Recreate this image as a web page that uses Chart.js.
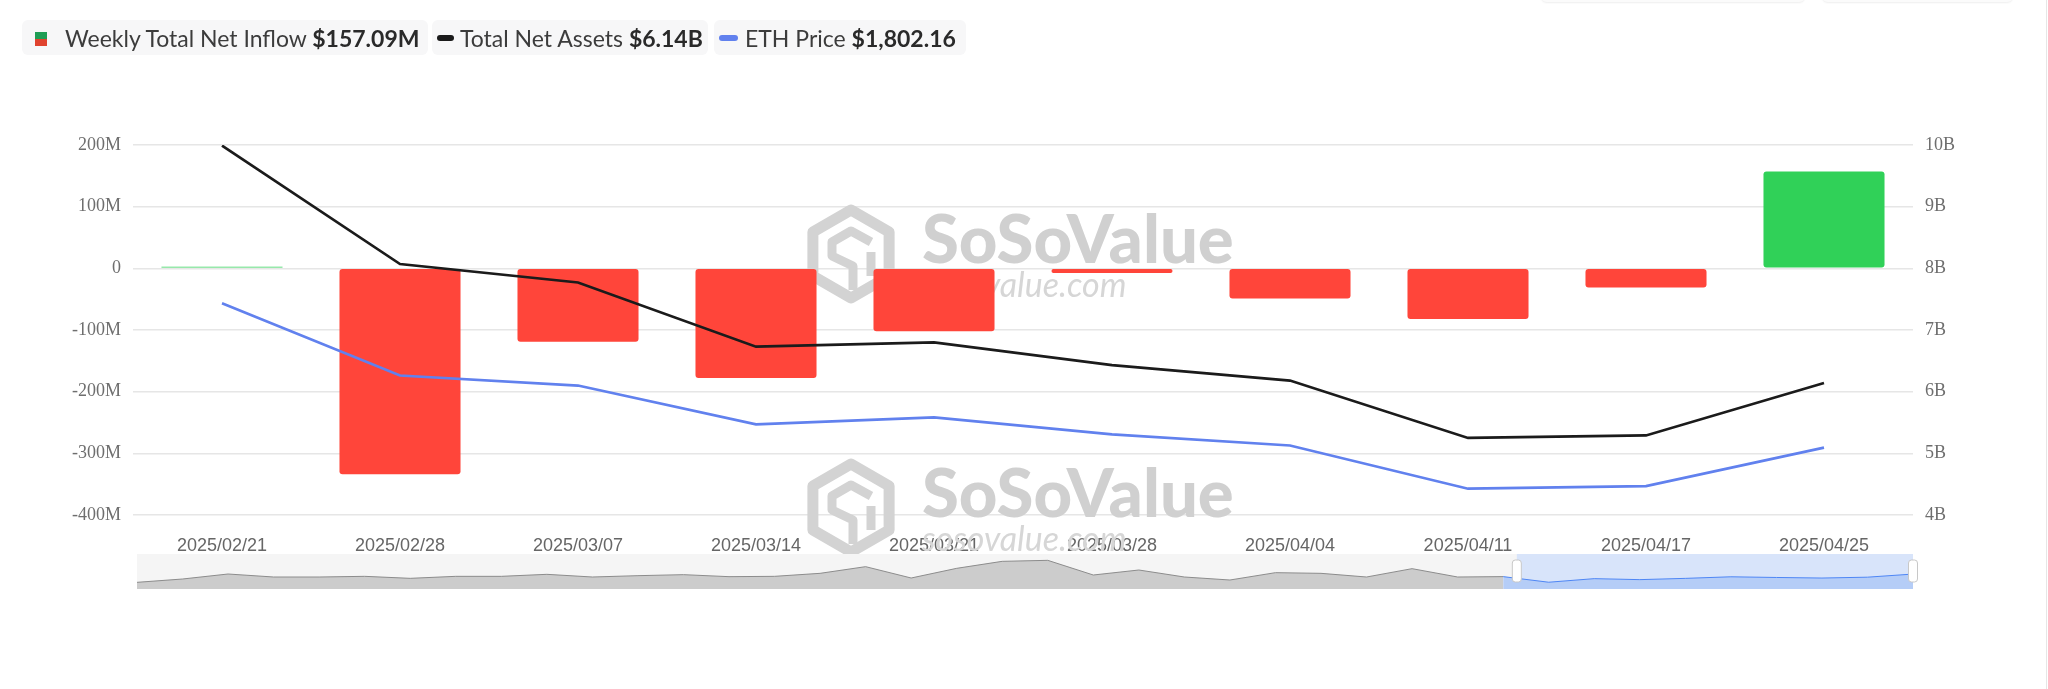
<!DOCTYPE html>
<html>
<head>
<meta charset="utf-8">
<title>ETH ETF Weekly Net Inflow</title>
<script src="https://cdn.jsdelivr.net/npm/chart.js@4.4.0/dist/chart.umd.min.js"></script>
<style>
  html, body { margin: 0; padding: 0; background: #fff; }
  body { width: 2048px; height: 689px; position: relative; overflow: hidden; font-family: Lato, 'Noto Sans', sans-serif; }
  #main { position: absolute; left: 0; top: 0; }
  #nav { position: absolute; left: 130px; top: 554px; }
  .legend { position: absolute; top: 20px; height: 35px; background: #f7f7f8; border-radius: 6px; font-size: 23px; color: #3c3c3c; white-space: nowrap; }
  .legend span.txt { position: absolute; top: 0; line-height: 36px; }
  .legend b { color: #2a2a2a; font-weight: 700; }
  .icon { position: absolute; }
  .topbox { position: absolute; top: -30px; height: 32px; background: #fbfbfb; border-radius: 6px; box-shadow: 0 1px 2px rgba(0,0,0,0.07); }
  #edge { position: absolute; left: 2046px; top: 0; width: 1px; height: 689px; background: #e6e6e6; }
</style>
</head>
<body>

<canvas id="main" width="2048" height="689"></canvas>
<canvas id="nav" width="1795" height="35"></canvas>

<div class="topbox" style="left:1541px;width:264px"></div>
<div class="topbox" style="left:1822px;width:191px"></div>
<div id="edge"></div>

<div class="legend" style="left:22px;width:406px">
  <div class="icon" style="left:13px;top:12px;width:12px;height:7px;background:#1f9d55"></div>
  <div class="icon" style="left:13px;top:19px;width:12px;height:7px;background:#e0432f"></div>
  <span class="txt" style="left:43px">Weekly Total Net Inflow <b id="lg-inflow"></b></span>
</div>
<div class="legend" style="left:432px;width:276px">
  <div class="icon" style="left:5px;top:15px;width:17px;height:6px;border-radius:3px;background:#1b1b1b"></div>
  <span class="txt" style="left:28px">Total Net Assets <b id="lg-assets"></b></span>
</div>
<div class="legend" style="left:714px;width:252px">
  <div class="icon" style="left:5px;top:15px;width:19px;height:6px;border-radius:3px;background:#6181ee"></div>
  <span class="txt" style="left:31px">ETH Price <b id="lg-eth"></b></span>
</div>

<script>
'use strict';

// weekly data shown in the main window
const weeks = ['2025/02/21', '2025/02/28', '2025/03/07', '2025/03/14', '2025/03/21',
  '2025/03/28', '2025/04/04', '2025/04/11', '2025/04/17', '2025/04/25'];
const netInflow = [2.6, -334, -119, -178, -102, -7.6, -49, -82, -31, 157.09];   // M USD
const netAssets = [9.99, 8.07, 7.77, 6.73, 6.80, 6.43, 6.18, 5.25, 5.29, 6.14];   // B USD
const ethPrice = [2620, 2211, 2154, 1934, 1974, 1877, 1814, 1569, 1584, 1802.16];

// older weekly inflows (M USD) only seen in the zoom slider
const inflowHistory = [-340, -140, 160, -20, -20, 20, -100, 20, 20, 140,
  -20, 60, 120, 0, 20, 200, 600, -80, 500, 920,
  980, 100, 400, -20, -200, 240, 200, -20, 480, -20];

// axis ticks
const leftTicks = [-400, -300, -200, -100, 0, 100, 200];
const rightTicks = [4, 5, 6, 7, 8, 9, 10];

const green = '#30d158';
const red = '#ff453a';

document.getElementById('lg-inflow').textContent = '$' + netInflow[netInflow.length - 1].toFixed(2) + 'M';
document.getElementById('lg-assets').textContent = '$' + netAssets[netAssets.length - 1].toFixed(2) + 'B';
document.getElementById('lg-eth').textContent = '$' + ethPrice[ethPrice.length - 1].toLocaleString('en-US', { minimumFractionDigits: 2 });

// SoSoValue watermark, drawn behind the bars
function drawLogo(ctx, left, top) {
  let cx = left + 41;
  let cy = top + 48;
  let r = 44;
  ctx.save();
  ctx.strokeStyle = '#d3d3d3';
  ctx.fillStyle = '#d3d3d3';
  ctx.lineWidth = 11;
  ctx.lineJoin = 'round';
  ctx.beginPath();
  for (let i = 0; i < 6; i++) {
    let a = Math.PI / 3 * i - Math.PI / 2;
    let px = cx + r * Math.cos(a);
    let py = cy + r * Math.sin(a);
    if (i === 0) ctx.moveTo(px, py); else ctx.lineTo(px, py);
  }
  ctx.closePath();
  ctx.stroke();
  ctx.lineWidth = 9;
  ctx.beginPath();
  ctx.moveTo(cx + 20, cy - 12);
  ctx.lineTo(cx, cy - 23);
  ctx.lineTo(cx - 19, cy - 12);
  ctx.lineTo(cx - 19, cy + 2);
  ctx.lineTo(cx + 2, cy + 12);
  ctx.lineTo(cx + 2, cy + 36);
  ctx.moveTo(cx + 20, cy - 2);
  ctx.lineTo(cx + 20, cy + 22);
  ctx.stroke();

  ctx.font = '900 67px Lato';
  ctx.textBaseline = 'alphabetic';
  ctx.fillStyle = '#d0d0d0';
  ctx.fillText('SoSoValue', left + 112, top + 57);
  ctx.font = 'italic 34px Lato';
  ctx.fillStyle = '#d6d6d6';
  ctx.fillText('sosovalue.com', left + 112, top + 91);
  ctx.restore();
}

const watermark = {
  id: 'watermark',
  beforeDatasetsDraw(chart) {
    drawLogo(chart.ctx, 810, 206);
    drawLogo(chart.ctx, 810, 460);
  }
};

let mainCtx = document.getElementById('main').getContext('2d');

new Chart(mainCtx, {
  type: 'bar',
  data: {
    labels: weeks,
    datasets: [{
      label: 'Total Net Assets',
      type: 'line',
      data: netAssets,
      yAxisID: 'y1',
      borderColor: '#1b1b1b',
      borderWidth: 2.7,
      pointRadius: 0,
      tension: 0,
      order: 0
    },
    {
      label: 'ETH Price',
      type: 'line',
      data: ethPrice,
      yAxisID: 'y2',
      borderColor: '#6181ee',
      borderWidth: 2.7,
      pointRadius: 0,
      tension: 0,
      order: 0
    },
    {
      label: 'Weekly Total Net Inflow',
      data: netInflow,
      yAxisID: 'y',
      backgroundColor: netInflow.map(v => v >= 0 ? green : red),
      borderRadius: ctx => Math.abs(netInflow[ctx.dataIndex]) < 5 ? 0 : 3,
      borderSkipped: false,
      barPercentage: 0.68,
      categoryPercentage: 1,
      order: 1
    }]
  },
  options: {
    responsive: false,
    animation: false,
    layout: { padding: { top: 145, bottom: 129, left: 0, right: 0 } },
    plugins: { legend: { display: false }, tooltip: { enabled: false } },
    scales: {
      x: {
        grid: { display: false },
        border: { display: false },
        ticks: { color: '#666', font: { family: 'Liberation Sans', size: 18 }, padding: 12, maxRotation: 0, autoSkip: false },
        afterFit(scale) { scale.height = 45; }
      },
      y: {
        position: 'left',
        min: leftTicks[0],
        max: leftTicks[leftTicks.length - 1],
        afterBuildTicks(scale) { scale.ticks = leftTicks.map(v => ({ value: v })); },
        grid: { color: '#e6e6e6', lineWidth: 1.5, drawTicks: false },
        border: { display: false },
        ticks: {
          color: '#6e6e6e',
          font: { family: 'Liberation Serif', size: 18 },
          padding: 12,
          callback: v => v === 0 ? '0' : v + 'M'
        },
        afterFit(scale) { scale.width = 133; }
      },
      y1: {
        position: 'right',
        min: rightTicks[0],
        max: rightTicks[rightTicks.length - 1],
        afterBuildTicks(scale) { scale.ticks = rightTicks.map(v => ({ value: v })); },
        grid: { display: false, drawTicks: false },
        border: { display: false },
        ticks: {
          color: '#6e6e6e',
          font: { family: 'Liberation Serif', size: 18 },
          padding: 12,
          callback: v => v + 'B'
        },
        afterFit(scale) { scale.width = 135; }
      },
      y2: {
        display: false,
        min: 1420,
        max: 3518
      }
    }
  },
  plugins: [watermark]
});

// Zoom slider under the chart
let navLabels = [];
let navAll = inflowHistory.concat(netInflow);
for (let i = 0; i < navAll.length; i++) {
  navLabels.push(i < inflowHistory.length ? '' : weeks[i - inflowHistory.length]);
}
let windowStart = inflowHistory.length;
let navGray = navAll.map((v, i) => i <= windowStart ? v : null);
let navBlue = navAll.map((v, i) => i >= windowStart ? v : null);

const navBack = {
  id: 'navBack',
  beforeDatasetsDraw(chart) {
    let ctx = chart.ctx;
    let area = chart.chartArea;
    let xs = chart.scales.x.getPixelForValue(windowStart + 0.3);
    ctx.save();
    ctx.fillStyle = '#f5f5f5';
    ctx.fillRect(area.left, area.top, area.right - area.left, area.bottom - area.top);
    ctx.fillStyle = '#d8e4fa';
    ctx.fillRect(xs, area.top, area.right - xs, area.bottom - area.top);
    ctx.restore();
  },
  afterDraw(chart) {
    let ctx = chart.ctx;
    let xs = chart.scales.x.getPixelForValue(windowStart + 0.3);
    let xe = chart.chartArea.right;
    ctx.save();
    [xs, xe].forEach(x => {
      ctx.fillStyle = '#ffffff';
      ctx.strokeStyle = '#c8c8c8';
      ctx.lineWidth = 1;
      ctx.beginPath();
      ctx.roundRect(x - 4.5, 6, 9, 22, 3);
      ctx.fill();
      ctx.stroke();
    });
    ctx.restore();
  }
};

let navCtx = document.getElementById('nav').getContext('2d');

new Chart(navCtx, {
  type: 'line',
  data: {
    labels: navLabels,
    datasets: [{
      data: navGray,
      borderColor: '#8c8c8c',
      borderWidth: 1,
      backgroundColor: '#cccccc',
      fill: 'start',
      pointRadius: 0,
      tension: 0
    },
    {
      data: navBlue,
      borderColor: '#4e86f5',
      borderWidth: 1,
      backgroundColor: '#b5cdf7',
      fill: 'start',
      pointRadius: 0,
      tension: 0
    }]
  },
  options: {
    responsive: false,
    animation: false,
    layout: { padding: { left: 7, right: 12, top: 0, bottom: 0 } },
    plugins: { legend: { display: false }, tooltip: { enabled: false } },
    scales: {
      x: { display: false, offset: false },
      y: { display: false, min: -740, max: 1360 }
    }
  },
  plugins: [navBack]
});
</script>
</body>
</html>
